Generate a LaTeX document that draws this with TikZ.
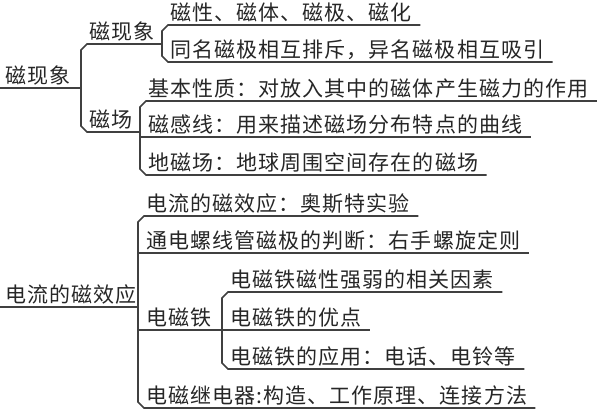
\documentclass[tikz,border=0pt]{standalone}
\usepackage{fontspec}
\newfontfamily\cjk[LetterSpace=5]{Noto Sans CJK SC}
\usetikzlibrary{positioning}

\begin{document}
\begin{tikzpicture}[x=0.5pt,y=-0.5pt]
	\tikzset{
		item/.style={anchor=south west, inner xsep=4pt, inner ysep=1pt, text=black!85, font=\cjk\fontsize{10.5}{12}\selectfont},
		rootitem/.style={item, inner xsep=2.5pt},
		myline/.style={draw=black!75, line width=0.8pt}
	}
	\useasboundingbox (0,0) rectangle (600,417);
	\node[rootitem] (magnet) at (0,88) {磁现象};
	\node[item] (phen) at (81,44) {磁现象};
	\node[item] (field) at (81,132) {磁场};
	\node[item] (p1) at (162,25) {磁性、磁体、磁极、磁化};
	\node[item] (p2) at (162,62) {同名磁极相互排斥，异名磁极相互吸引};
	\node[item] (f1) at (140,101) {基本性质：对放入其中的磁体产生磁力的作用};
	\node[item] (f2) at (140,137) {磁感线：用来描述磁场分布特点的曲线};
	\node[item] (f3) at (140,175) {地磁场：地球周围空间存在的磁场};
	\node[rootitem] (effect) at (0,307) {电流的磁效应};
	\node[item] (e1) at (138,216) {电流的磁效应：奥斯特实验};
	\node[item] (e2) at (138,253) {通电螺线管磁极的判断：右手螺旋定则};
	\node[item] (iron) at (138,330) {电磁铁};
	\node[item] (e4) at (138,408) {电磁继电器:构造、工作原理、连接方法};
	\node[item] (i1) at (222,292) {电磁铁磁性强弱的相关因素};
	\node[item] (i2) at (222,330) {电磁铁的优点};
	\node[item] (i3) at (222,369) {电磁铁的应用：电话、电铃等};

	\draw[myline] (magnet.south west) -- (magnet.south west -| phen.south west);
	\draw[myline] (phen.south west -| p1.south west) -- ([xshift=3pt]phen.south west) -- ([yshift=-3pt]phen.south west) -- ([yshift=3pt]field.south west) -- ([xshift=3pt]field.south west) -- (field.south west -| f1.south west);
	\draw[myline] (p1.south east) -- ([xshift=3pt]p1.south west) -- ([yshift=-3pt]p1.south west) -- ([yshift=3pt]p2.south west) -- ([xshift=3pt]p2.south west) -- (p2.south east);
	\draw[myline] (f1.south east) -- ([xshift=3pt]f1.south west) -- ([yshift=-3pt]f1.south west) -- ([yshift=3pt]f3.south west) -- ([xshift=3pt]f3.south west) -- (f3.south east);
	\draw[myline] (f2.south west) -- (f2.south east);
	\draw[myline] (effect.south west) -- (effect.south west -| e1.south west);
	\draw[myline] (e1.south east) -- ([xshift=3pt]e1.south west) -- ([yshift=-3pt]e1.south west) -- ([yshift=3pt]e4.south west) -- ([xshift=3pt]e4.south west) -- (e4.south east);
	\draw[myline] (e2.south west) -- (e2.south east);
	\draw[myline] (iron.south west) -- (iron.south west -| i1.south west);
	\draw[myline] (i1.south east) -- ([xshift=3pt]i1.south west) -- ([yshift=-3pt]i1.south west) -- ([yshift=3pt]i3.south west) -- ([xshift=3pt]i3.south west) -- (i3.south east);
	\draw[myline] (i2.south west) -- (i2.south east);
\end{tikzpicture}
\end{document}
